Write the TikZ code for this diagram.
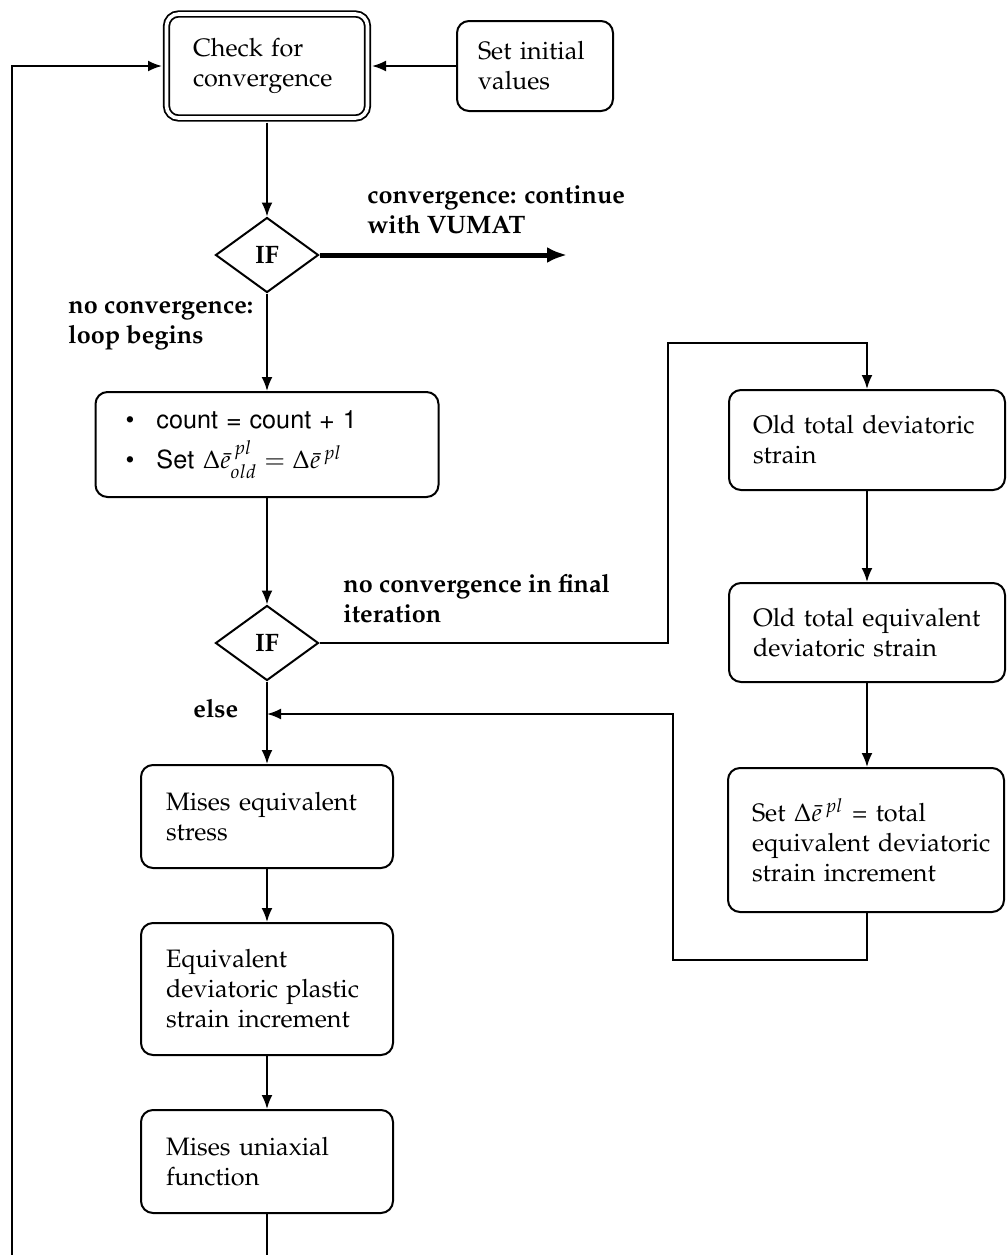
\documentclass[tikz,border=0pt]{standalone}
\usepackage[T1]{fontenc}
\usepackage{mathpazo}
\usetikzlibrary{arrows.meta,shapes.geometric}
% sans face for the counter lines
\newcommand\cntfont{\fontfamily{phv}\selectfont}

\begin{document}
\begin{tikzpicture}[x=0.5pt,y=-0.5pt,
  txt/.style={font=\fontsize{12.6}{15}\selectfont},
  box/.style={txt, draw, line width=1pt, rounded corners=6pt, align=left,
    inner xsep=12.5pt, inner ysep=4pt},
  leftbox/.style={box, minimum width=126pt, text width=101pt},
  rightbox/.style={box, minimum width=138pt, inner xsep=12pt, text width=114pt},
  decision/.style={diamond, draw, line width=1pt, inner sep=0pt,
    minimum width=51.5pt, minimum height=37.5pt,
    font=\fontsize{12.6}{15}\selectfont\bfseries},
  lbl/.style={font=\fontsize{12.6}{15}\selectfont\bfseries, align=left, anchor=base west, inner sep=0pt},
  arr/.style={line width=1pt, -{Latex[length=7pt,width=5.5pt]}},
]
\useasboundingbox (0,0) rectangle (1007,1255);
\clip (0,0) rectangle (1007,1255);

% ---- top row
\node[box, double, line width=0.9pt, double distance=1.8pt,
      minimum width=100.5pt, minimum height=52pt, inner xsep=13pt, text width=74pt]
      (check) at (267,66) {Check for\\convergence};
\node[box, minimum width=78pt, minimum height=45pt, inner xsep=10.5pt, text width=57pt]
      (init) at (535,66) {Set~initial\\values};

% ---- main column
\node[decision] (if1) at (267,255) {IF};
\node[box, minimum width=171.5pt, minimum height=52.5pt, inner xsep=15pt, text width=141.5pt]
      (count) at (267,444.5)
      {\cntfont\makebox[15.5pt][l]{\textbullet}count = count + 1\\[5pt]
       \cntfont\makebox[15.5pt][l]{\textbullet}Set $\Delta\bar{e}^{\,pl}_{old} = \Delta\bar{e}^{\,pl}$};
\node[decision] (if2) at (267,643) {IF};
\node[leftbox, minimum height=51.5pt] (mises) at (267,816.5) {Mises~equivalent\\stress};
\node[leftbox, minimum height=66pt] (eqdev) at (267,989) {Equivalent\\deviatoric~plastic\\strain~increment};
\node[leftbox, minimum height=51.5pt] (uniax) at (267,1161.5) {Mises~uniaxial\\function};

% ---- right column
\node[rightbox, minimum height=50pt] (olddev) at (867,440) {Old~total~deviatoric\\strain};
\node[rightbox, minimum height=49.5pt] (oldeq) at (867,632.5) {Old~total~equivalent\\deviatoric~strain};
\node[rightbox, minimum height=72pt] (setde) at (866,840)
      {Set $\Delta\bar{e}^{\,pl}$ = total\\\mbox{equivalent deviatoric}\\strain~increment};

% ---- labels (anchored on the baseline of their last line)
\node[lbl] (lconv) at (367,233) {convergence: continue\\with VUMAT};
\node[lbl] (lnoconv) at (68,343) {no convergence:\\loop begins};
\node[lbl] (lfinal) at (343,622) {no convergence in final\\iteration};
\node[lbl] (lelse) at (193,717) {else};

% ---- bend points
\coordinate (exitend) at (567,255);
\coordinate (jog1) at (668,343);
\coordinate (jog2) at (673,960);
\coordinate (elsept) at (267,714);
\coordinate (loopL) at (12,1265);

% ---- connectors
\draw[arr, shorten >=1.8pt] (init.west) -- (check.east);
\draw[arr, shorten <=1.8pt] (check.south) -- (if1.north);
\draw[line width=2.5pt, -{Latex[length=10pt,width=8pt]}] (if1.east) -- (exitend);
\draw[arr] (if1.south) -- (count.north);
\draw[arr] (count.south) -- (if2.north);
\draw[arr] (if2.south) -- (mises.north);
\draw[arr] (mises.south) -- (eqdev.north);
\draw[arr] (eqdev.south) -- (uniax.north);
\draw[arr] (if2.east) -| (jog1) -| (olddev.north);
\draw[arr] (olddev.south) -- (oldeq.north);
\draw[arr] (oldeq.south) -- (oldeq.south |- setde.north);
\draw[arr] (setde.south -| oldeq.south) |- (jog2) |- (elsept);
\draw[arr, shorten >=1.8pt] (uniax.south) |- (loopL) |- (check.west);
\end{tikzpicture}
\end{document}
